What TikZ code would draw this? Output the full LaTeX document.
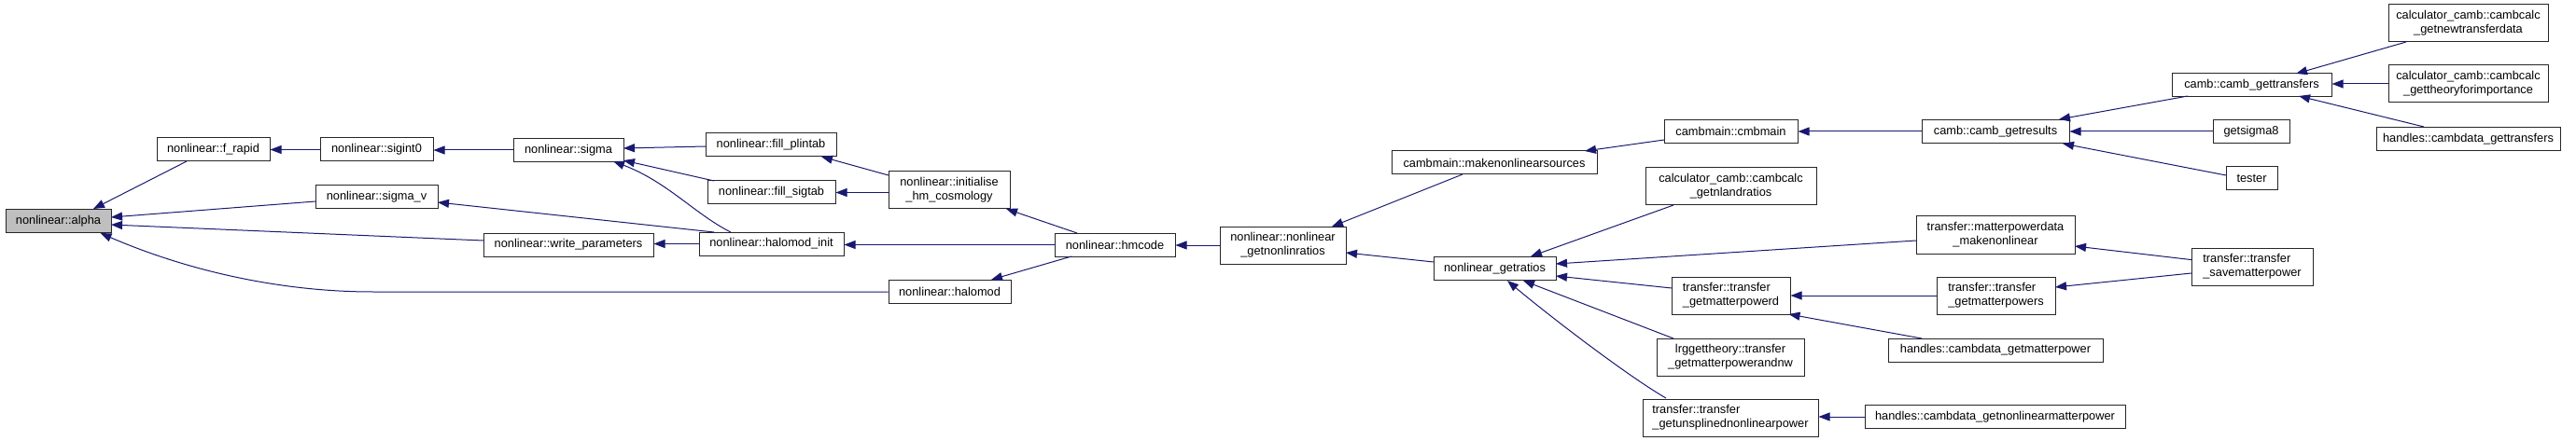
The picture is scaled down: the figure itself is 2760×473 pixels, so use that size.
\documentclass[tikz,border=0pt]{standalone}
\usepackage{fontspec}
\setmainfont{Liberation Sans}
\usetikzlibrary{arrows.meta,calc}
\definecolor{edgeblue}{HTML}{191970}
\definecolor{alphagray}{HTML}{BFBFBF}
\definecolor{boxline}{HTML}{262626}
\begin{document}
\begin{tikzpicture}[x=1pt,y=-1pt,
  box/.style={draw=boxline, line width=1pt, fill=white, rectangle, inner sep=0pt,
    minimum height=25pt, font=\fontsize{12.8}{15}\selectfont, align=center},
  boxtwo/.style={box, minimum height=40pt},
  boxleft/.style={box, minimum height=40pt, align=left},
  edge/.style={draw=edgeblue, line width=1pt, -{Triangle[length=12pt,width=9pt]}}]
\useasboundingbox (0,0) rectangle (2760,473);
% nodes
\node[box, fill=alphagray, minimum width=113pt] (alpha) at (62.5,237) {nonlinear::alpha};
\node[box, minimum width=121pt] (frapid) at (228.5,160.5) {nonlinear::f\_rapid};
\node[box, minimum width=131pt] (sigmav) at (403.5,211.5) {nonlinear::sigma\_v};
\node[box, minimum width=182pt] (wparams) at (609,262.5) {nonlinear::write\_parameters};
\node[box, minimum width=131pt] (halomod) at (1017.5,313) {nonlinear::halomod};
\node[box, minimum width=121pt] (sigint) at (403.5,160.5) {nonlinear::sigint0};
\node[box, minimum width=118pt] (sigma) at (609,161) {nonlinear::sigma};
\node[box, minimum width=155pt] (hminit) at (826.5,261.5) {nonlinear::halomod\_init};
\node[box, minimum width=140pt] (plintab) at (826,155.5) {nonlinear::fill\_plintab};
\node[box, minimum width=137pt] (sigtab) at (826.5,206.5) {nonlinear::fill\_sigtab};
\node[boxtwo, minimum width=130pt] (hmcosmo) at (1017,204) {nonlinear::initialise\\\_hm\_cosmology};
\node[box, minimum width=129pt] (hmcode) at (1194.5,262.5) {nonlinear::hmcode};
\node[boxtwo, minimum width=135pt] (gnlr) at (1374.5,263) {nonlinear::nonlinear\\\_getnonlinratios};
\node[box, minimum width=220pt] (mnls) at (1601,174.5) {cambmain::makenonlinearsources};
\node[box, minimum width=131pt] (gratios) at (1601.5,288) {nonlinear\_getratios};
\node[box, minimum width=143pt] (cmbmain) at (1854.5,141) {cambmain::cmbmain};
\node[boxtwo, minimum width=183pt] (nlandr) at (1854.5,199.5) {calculator\_camb::cambcalc\\\_getnlandratios};
\node[boxleft, minimum width=127pt] (gmpd) at (1854.5,317) {transfer::transfer\\\_getmatterpowerd};
\node[boxtwo, minimum width=158pt] (lrg) at (1854,383) {lrggettheory::transfer\\\_getmatterpowerandnw};
\node[boxleft, minimum width=188pt] (unspl) at (1854,448) {transfer::transfer\\\_getunsplinednonlinearpower};
\node[box, minimum width=158pt] (getres) at (2138,141) {camb::camb\_getresults};
\node[boxtwo, minimum width=170pt] (mpdm) at (2138,252) {transfer::matterpowerdata\\\_makenonlinear};
\node[boxleft, minimum width=127pt] (gmps) at (2138.5,317) {transfer::transfer\\\_getmatterpowers};
\node[box, minimum width=230pt] (cdgmp) at (2138,375.5) {handles::cambdata\_getmatterpower};
\node[box, minimum width=279pt] (cdgnl) at (2137.5,447) {handles::cambdata\_getnonlinearmatterpower};
\node[boxleft, minimum width=130pt] (smp) at (2413,286) {transfer::transfer\\\_savematterpower};
\node[box, minimum width=171pt] (gtrans) at (2412.5,91) {camb::camb\_gettransfers};
\node[box, minimum width=82pt] (sigma8) at (2412,141) {getsigma8};
\node[box, minimum width=55pt] (tester) at (2412.5,191.5) {tester};
\node[boxtwo, minimum width=171pt] (ntd) at (2644.5,25) {calculator\_camb::cambcalc\\\_getnewtransferdata};
\node[boxtwo, minimum width=171pt] (gti) at (2644.5,90) {calculator\_camb::cambcalc\\\_gettheoryforimportance};
\node[box, minimum width=197pt] (cdgt) at (2644.5,149) {handles::cambdata\_gettransfers};
% edges
\draw[edge] ($(frapid)+(-28.5,12.5)$) -- ($(alpha)+(37.5,-13)$);
\draw[edge] ($(sigmav)+(-65.5,4.5)$) -- ($(alpha)+(56.5,-4)$);
\draw[edge] ($(wparams)+(-91,-4.5)$) -- ($(alpha)+(56.5,4)$);
\draw[edge] (halomod.west) -- ($(halomod.west)+(-552,0)$) .. controls ($(halomod.west)+(-652,0)$) and ($(alpha)+(137.5,53)$) .. ($(alpha)+(45,13)$);
\draw[edge] (sigint.west) -- (frapid.east);
\draw[edge] (sigma.west) -- (sigint.east |- sigma.west);
\draw[edge] ($(hminit)+(-61.5,-12.5)$) -- ($(sigmav)+(65.5,5.5)$);
\draw[edge] (hminit.west) -- (wparams.east |- hminit.west);
\draw[edge] ($(hminit)+(-43.5,-12.5)$) .. controls ($(hminit)+(-81.5,-31.5)$) and ($(hminit)+(-111.5,-66.5)$) .. ($(sigma)+(48,12)$);
\draw[edge] ($(plintab)+(-70,1.5)$) -- ($(sigma)+(59,-2)$);
\draw[edge] ($(sigtab)+(-61.5,-12.5)$) -- ($(sigma)+(59,11)$);
\draw[edge] ($(hmcosmo)+(-65,-16)$) -- ($(plintab)+(54,12.5)$);
\draw[edge] (hmcosmo.west |- sigtab.east) -- (sigtab.east);
\draw[edge] ($(hmcode)+(-40.5,-12.5)$) -- ($(hmcosmo)+(61,20)$);
\draw[edge] (hmcode.west) -- (hminit.east |- hmcode.west);
\draw[edge] ($(hmcode)+(-46.5,12.5)$) -- ($(halomod)+(44.5,-13)$);
\draw[edge] (gnlr.west) -- (hmcode.east |- gnlr.west);
\draw[edge] ($(mnls)+(-34,12.5)$) -- ($(gnlr)+(52.5,-20)$);
\draw[edge] ($(gratios)+(-65.5,-7)$) -- ($(gnlr)+(67.5,8)$);
\draw[edge] ($(cmbmain)+(-71.5,9)$) -- ($(mnls)+(97,-12.5)$);
\draw[edge] (getres.west) -- (cmbmain.east);
\draw[edge] ($(nlandr)+(-61.5,20.5)$) -- ($(gratios)+(38.5,-13)$);
\draw[edge] ($(mpdm)+(-85,6)$) -- ($(gratios)+(65.5,-5)$);
\draw[edge] ($(gmpd)+(-63.5,-8)$) -- ($(gratios)+(65.5,8)$);
\draw[edge] ($(lrg)+(-61,-20)$) -- ($(gratios)+(30.5,13)$);
\draw[edge] ($(unspl)+(-69,-21)$) .. controls ($(unspl)+(-109,-44)$) and ($(unspl)+(-194,-109)$) .. ($(gratios)+(13.5,13)$);
\draw[edge] (gmps.west) -- (gmpd.east);
\draw[edge] ($(cdgmp)+(-79,-12.5)$) -- ($(gmpd)+(62,20)$);
\draw[edge] (cdgnl.west) -- (unspl.east |- cdgnl.west);
\draw[edge] ($(smp)+(-65,-7.4)$) -- ($(mpdm)+(85,12)$);
\draw[edge] ($(smp)+(-65,7)$) -- ($(gmps)+(63.5,-9)$);
\draw[edge] ($(gtrans)+(-68.5,12)$) -- ($(getres)+(68,-13)$);
\draw[edge] (sigma8.west) -- (getres.east);
\draw[edge] ($(tester)+(-27.5,-3.5)$) -- ($(getres)+(72,13)$);
\draw[edge] ($(ntd)+(-66.5,20)$) -- ($(gtrans)+(47.5,-12)$);
\draw[edge] (gti.west) -- (gtrans.east |- gti.west);
\draw[edge] ($(cdgt)+(-47.5,-13)$) -- ($(gtrans)+(50.5,12)$);
\end{tikzpicture}
\end{document}
